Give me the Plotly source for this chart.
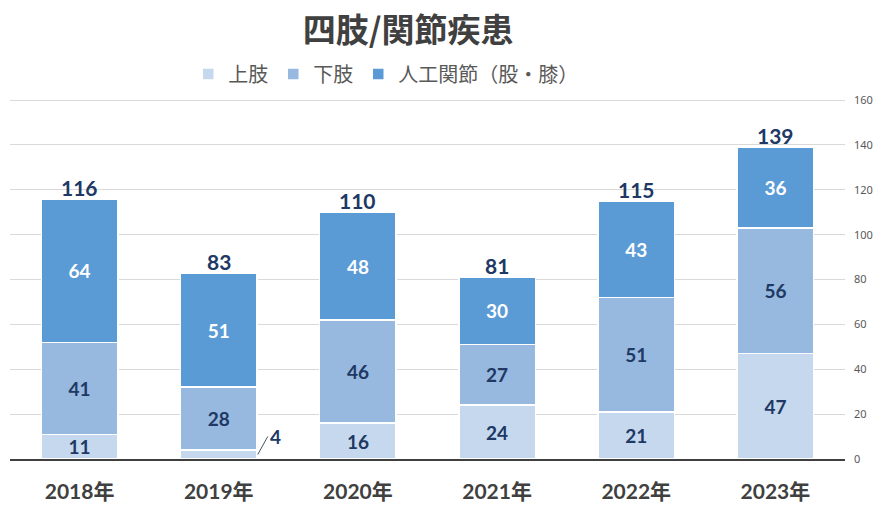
import plotly.graph_objects as go

years = ["2018年", "2019年", "2020年", "2021年", "2022年", "2023年"]
upper = [11, 4, 16, 24, 21, 47]
lower = [41, 28, 46, 27, 51, 56]
joint = [64, 51, 48, 30, 43, 36]
names = ["上肢", "下肢", "人工関節（股・膝）"]
colors = ["#c5d8ee", "#97b8df", "#5b9bd5"]
tick_vals = [0, 20, 40, 60, 80, 100, 120, 140, 160]

totals = [a + b + c for a, b, c in zip(upper, lower, joint)]

NUMFONT = "Lato, Noto Sans CJK JP, sans-serif"
navy = "#203864"

fig = go.Figure()
series = [(names[0], upper, colors[0], navy), (names[1], lower, colors[1], navy), (names[2], joint, colors[2], "white")]
for name, vals, col, tcol in series:
    texts = [str(v) if v >= 8 else "" for v in vals]
    fig.add_trace(go.Bar(
        x=years, y=vals, name=name,
        marker=dict(color=col, line=dict(color="white", width=1.5)),
        text=texts, textposition="inside", insidetextanchor="middle", constraintext="none",
        textfont=dict(family=NUMFONT, size=19, color=tcol, weight="bold"),
        textangle=0, cliponaxis=False, hoverinfo="skip",
    ))

for yr, t in zip(years, totals):
    fig.add_annotation(x=yr, y=t, text=str(t), showarrow=False, yanchor="bottom", yshift=-3,
                       font=dict(family=NUMFONT, size=21, color=navy, weight="bold"))

# small value label outside bar with leader line
for yr, v in zip(years, upper):
    if v < 8:
        fig.add_annotation(x=yr, y=v / 2, text=str(v), showarrow=True, arrowhead=0, arrowwidth=1,
                           arrowcolor="#44546a", xshift=39, ax=10, ay=-18, xanchor="left",
                           font=dict(family=NUMFONT, size=19, color=navy, weight="bold"))

fig.update_layout(
    width=887, height=511,
    margin=dict(l=10, r=42, t=99, b=52),
    paper_bgcolor="white", plot_bgcolor="white",
    barmode="stack", bargap=0.45,
    title=dict(text="<b>四肢/関節疾患</b>", x=0.46, xanchor="center", y=0.94, yanchor="middle",
               font=dict(family="Noto Sans CJK JP", size=33, color="#404040")),
    legend=dict(orientation="h", x=0.45, xanchor="center", y=1.015, yanchor="bottom",
                font=dict(family="Noto Sans CJK JP", size=20, color="#595959"),
                itemwidth=30, traceorder="normal"),
    xaxis=dict(showline=True, linecolor="#404040", linewidth=2, ticks="", automargin=False,
               tickfont=dict(family=NUMFONT, size=21, color="#404040", weight="bold"),
               ticklabelstandoff=13),
    yaxis=dict(side="right", range=[0, 160.5], tickvals=tick_vals, showgrid=True,
               gridcolor="#d9d9d9", gridwidth=1, zeroline=False, automargin=False,
               tickfont=dict(family="Noto Sans, sans-serif", size=11, color="#595959"), ticklabelstandoff=8),
    font=dict(family="Noto Sans CJK JP"),
)
fig.write_html("out.html")
